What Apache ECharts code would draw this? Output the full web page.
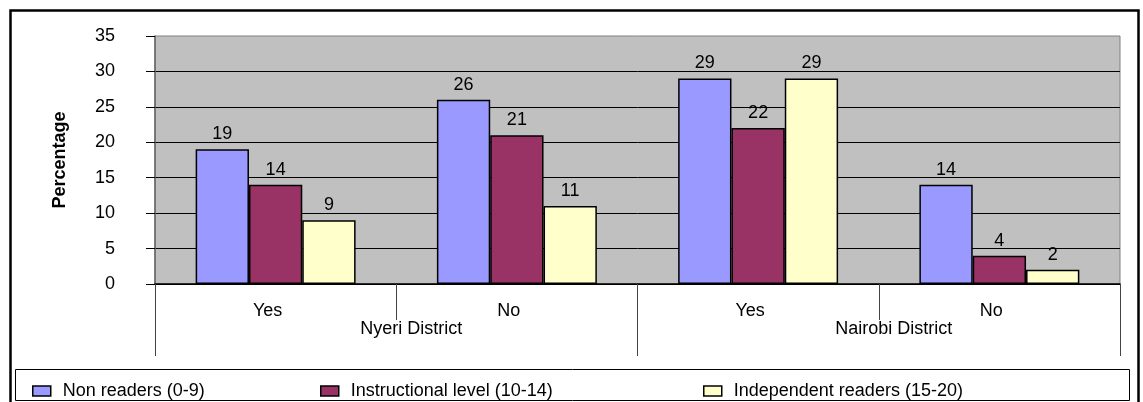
<!DOCTYPE html>
<html>
<head>
<meta charset="utf-8">
<script src="https://cdn.jsdelivr.net/npm/echarts@6/dist/echarts.min.js"></script>
<style>
html,body{margin:0;padding:0;background:#fff;}
#c{width:1143px;height:402px;}
</style>
</head>
<body>
<div id="c"></div>
<script>
const subCategories = ['Yes', 'No', 'Yes', 'No'];
const districts = ['Nyeri District', 'Nairobi District'];
const nonReaders = [19, 26, 29, 14];
const instructional = [14, 21, 22, 4];
const independent = [9, 11, 29, 2];
const seriesNames = ['Non readers (0-9)', 'Instructional level (10-14)', 'Independent readers (15-20)'];
const yTicks = [0, 5, 10, 15, 20, 25, 30, 35];

const FONT = "'Liberation Sans', Arial, sans-serif";
const colors = ['#9999FF', '#993366', '#FFFFCC'];
const values = [nonReaders, instructional, independent];

const chart = echarts.init(document.getElementById('c'), null, {renderer: 'canvas'});

const legendLefts = [27, 315, 698];

const option = {
  animation: false,
  textStyle: {fontFamily: FONT},
  graphic: [
    {type: 'rect', shape: {x: 10.5, y: 10.5, width: 1128, height: 400}, style: {fill: 'none', stroke: '#000', lineWidth: 2.5}, z: 100},
    {type: 'rect', shape: {x: 15.5, y: 369.5, width: 1114, height: 31}, style: {fill: 'none', stroke: '#000', lineWidth: 1}, z: 100}
  ],
  grid: {
    left: 155, right: 23, top: 36, bottom: 118,
    show: true, backgroundColor: '#C0C0C0', borderColor: '#808080', borderWidth: 1
  },
  legend: seriesNames.map((n, i) => ({
    data: [n],
    left: legendLefts[i],
    top: 377,
    itemWidth: 18,
    itemHeight: 10,
    icon: 'rect',
    selectedMode: false,
    textStyle: {fontFamily: FONT, fontSize: 18, color: '#000', padding: [0, 0, 0, 7]},
    itemStyle: {borderColor: '#000', borderWidth: 1.5}
  })),
  xAxis: [
    {
      type: 'category',
      data: subCategories,
      position: 'bottom',
      axisLine: {show: true, lineStyle: {color: '#000', width: 1.5}},
      axisTick: {show: true, length: 36, lineStyle: {color: '#444', width: 1}},
      axisLabel: {fontFamily: FONT, fontSize: 18, color: '#000', margin: 18, padding: [0, 16, 0, 0]},
      splitLine: {show: false}
    },
    {
      type: 'category',
      data: districts,
      position: 'bottom',
      gridIndex: 0,
      axisLine: {show: false},
      axisTick: {show: true, length: 72, lineStyle: {color: '#444', width: 1}},
      axisLabel: {fontFamily: FONT, fontSize: 18, color: '#000', margin: 36, padding: [0, 0, 0, 30]},
      splitLine: {show: false}
    }
  ],
  yAxis: {
    type: 'value',
    min: yTicks[0],
    max: yTicks[yTicks.length - 1],
    interval: 5,
    name: 'Percentage',
    nameLocation: 'middle',
    nameRotate: 90,
    nameGap: 86,
    nameTextStyle: {fontFamily: FONT, fontSize: 18, fontWeight: 'bold', color: '#000'},
    axisLine: {show: true, lineStyle: {color: '#666', width: 1.5}},
    axisTick: {show: true, length: 9, lineStyle: {color: '#000'}},
    axisLabel: {fontFamily: FONT, fontSize: 18, color: '#000', margin: 40},
    splitLine: {show: true, showMaxLine: false, lineStyle: {color: '#000', width: 1}}
  },
  series: values.map((v, i) => ({
    name: seriesNames[i],
    type: 'bar',
    xAxisIndex: 0,
    data: v,
    barGap: '0%',
    barCategoryGap: '33.7%',
    itemStyle: {color: colors[i], borderColor: '#000', borderWidth: 1.5},
    label: {show: true, position: 'top', distance: 6, fontFamily: FONT, fontSize: 18, color: '#000'}
  }))
};
chart.setOption(option);
</script>
</body>
</html>
